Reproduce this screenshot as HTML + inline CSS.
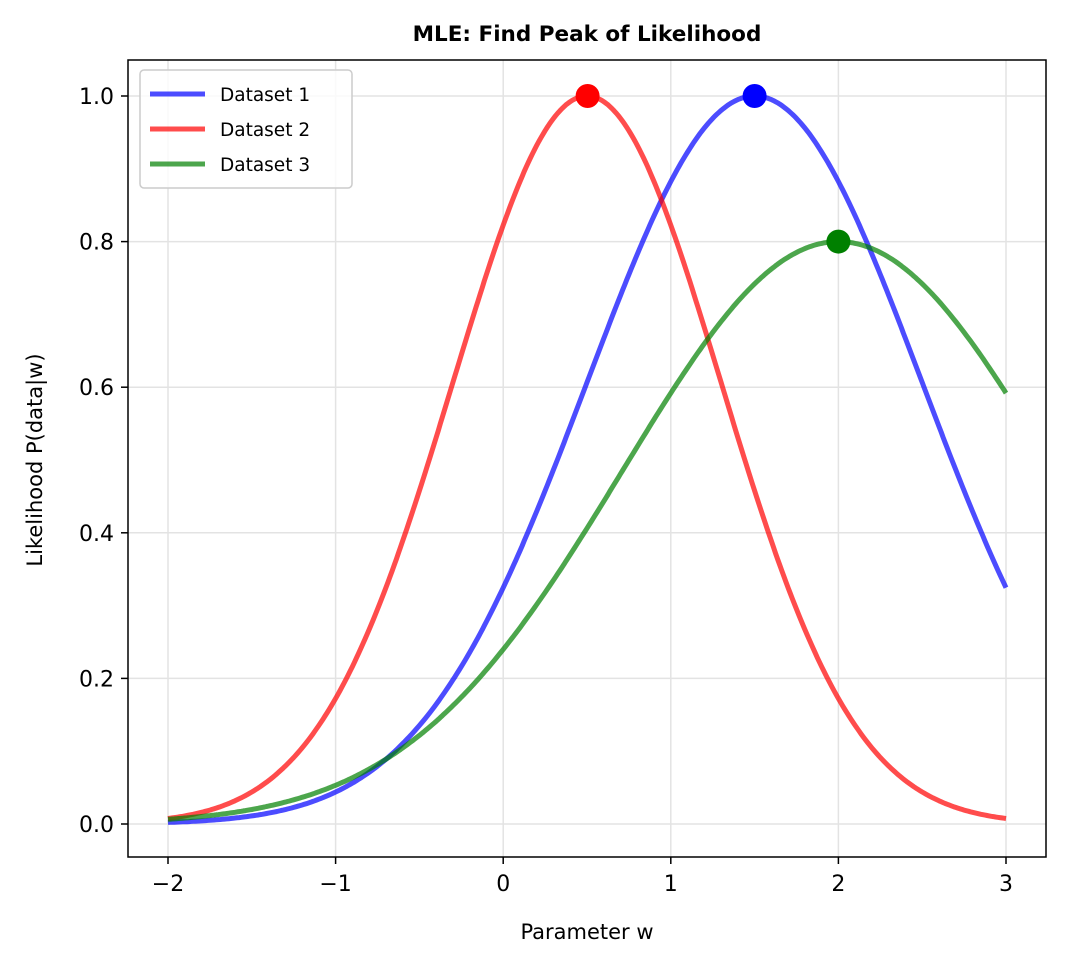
<!DOCTYPE html>
<html><head><meta charset="utf-8"><style>
body{margin:0;background:#fff}
svg text{font-family:"DejaVu Sans","Liberation Sans",sans-serif}
</style></head><body>
<svg id="s" width="1067" height="966" xmlns="http://www.w3.org/2000/svg">
<rect width="1067" height="966" fill="#fff"/>
<g id="grid" stroke="#e3e3e3" stroke-width="1.5"></g>
<g id="curves" fill="none" stroke-width="5" stroke-linejoin="round"></g>
<circle cx="754.6" cy="96" r="12" fill="#0000ff"/>
<circle cx="587.6" cy="96" r="12" fill="#ff0000"/>
<circle cx="838.4" cy="241.6" r="12" fill="#008000"/>
<rect x="128" y="60" width="918" height="797" fill="none" stroke="#000" stroke-width="1.5"/>
<g id="ticks" stroke="#000" stroke-width="1.5"></g>
<g id="labels" font-size="22" fill="#000"></g>
<text x="587" y="41" font-size="21.5" font-weight="bold" text-anchor="middle">MLE: Find Peak of Likelihood</text>
<text x="587" y="939" font-size="21" text-anchor="middle">Parameter w</text>
<text transform="translate(42,460) rotate(-90)" font-size="21" text-anchor="middle">Likelihood P(data|w)</text>
<rect x="140" y="70" width="212" height="118" rx="4" fill="#fff" fill-opacity="0.8" stroke="#ccc" stroke-width="1.5"/>
<line x1="150" y1="94" x2="205" y2="94" stroke="#0000ff" stroke-opacity="0.7" stroke-width="5"/>
<line x1="150" y1="129" x2="205" y2="129" stroke="#ff0000" stroke-opacity="0.7" stroke-width="5"/>
<line x1="150" y1="164" x2="205" y2="164" stroke="#008000" stroke-opacity="0.7" stroke-width="5"/>
<text x="220" y="101" font-size="18.5">Dataset 1</text>
<text x="220" y="136" font-size="18.5">Dataset 2</text>
<text x="220" y="171" font-size="18.5">Dataset 3</text>
</svg>
<script>
var X=function(w){return 168+(w+2)*167.6},Y=function(v){return 824-v*728};
var ns="http://www.w3.org/2000/svg";
function el(p,t,a){var e=document.createElementNS(ns,t);for(var k in a)e.setAttribute(k,a[k]);document.getElementById(p).appendChild(e);return e}
for(var w=-2;w<=3;w++){var x=X(w);el("grid","line",{x1:x,x2:x,y1:60,y2:857});el("ticks","line",{x1:x,x2:x,y1:857,y2:864});
var t=el("labels","text",{x:x,y:891,"text-anchor":"middle"});t.textContent=(w<0?"\u2212"+(-w):""+w);}
for(var i=0;i<=5;i++){var v=i*0.2,y=Y(v);el("grid","line",{x1:128,x2:1046,y1:y,y2:y});el("ticks","line",{x1:121,x2:128,y1:y,y2:y});
var t=el("labels","text",{x:114,y:y+8,"text-anchor":"end"});t.textContent=v.toFixed(1);}
function path(f,c){var d="";for(var k=0;k<=400;k++){var w=-2+5*k/400;d+=(k?"L":"M")+X(w).toFixed(1)+" "+Y(f(w)).toFixed(1)}
el("curves","path",{d:d,stroke:c,"stroke-opacity":0.7});}
path(function(w){return Math.exp(-Math.pow(w-1.5,2)/2)},"#0000ff");
path(function(w){return Math.exp(-Math.pow(w-0.5,2)/(2*0.64))},"#ff0000");
path(function(w){return 0.8*Math.exp(-Math.pow(w-2,2)/(2*1.66))},"#008000");
</script>
</body></html>
